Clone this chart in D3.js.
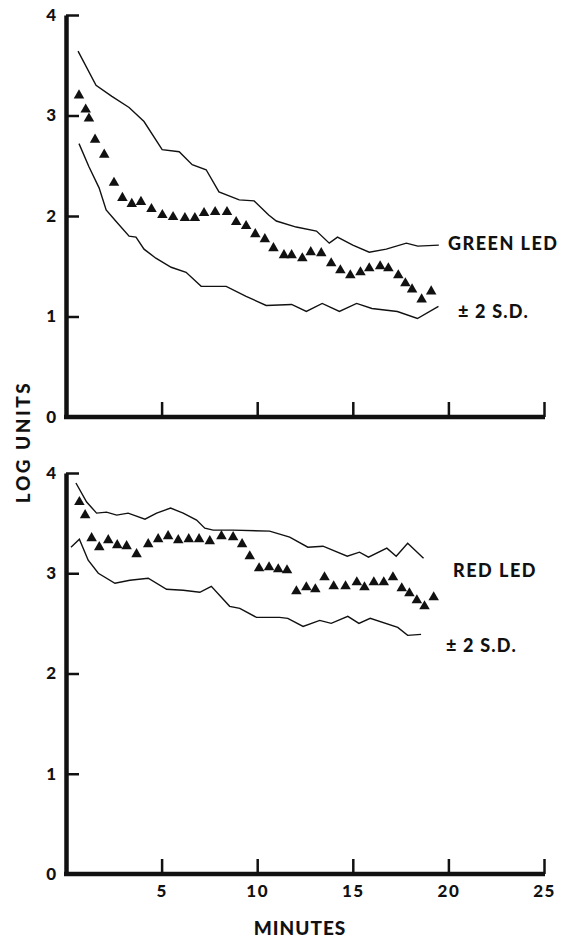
<!DOCTYPE html>
<html>
<head>
<meta charset="utf-8">
<script src="https://cdn.jsdelivr.net/npm/d3@7"></script>
<style>
body { margin: 0; background: #fff; }
text { font-family: Lato, "Open Sans", sans-serif; font-weight: 900; fill: #111; }
.axis path, .axis line { stroke: #111; }
</style>
</head>
<body>
<div class="chart"></div>
<script>
var width = 569, height = 937;

// green LED, triangles (minutes, log units)
var greenT = [0.68,1.03,1.2,1.52,2.0,2.51,2.95,3.44,3.92,4.47,5.04,5.6,6.22,6.74,7.22,7.8,8.42,8.9,9.42,9.9,
	10.4,10.85,11.4,11.8,12.36,12.8,13.35,13.87,14.35,14.87,15.4,15.86,16.43,16.86,17.38,17.75,18.1,18.6,19.1];
var greenV = [3.20,3.06,2.97,2.76,2.61,2.33,2.18,2.12,2.14,2.07,2.01,1.99,1.98,1.98,2.03,2.04,2.04,1.94,1.90,1.82,
	1.77,1.68,1.61,1.61,1.58,1.64,1.63,1.53,1.46,1.41,1.44,1.48,1.50,1.48,1.41,1.33,1.27,1.17,1.25];
// green +2 S.D.
var greenHiT = [0.63,1.57,2.4,3.3,4.08,5.03,5.92,6.6,7.33,8.0,9.06,9.84,10.6,11.0,12.04,13.1,13.77,14.2,15.0,15.86,16.75,17.8,18.4,19.5];
var greenHiV = [3.64,3.30,3.19,3.08,2.94,2.66,2.64,2.51,2.46,2.24,2.16,2.15,2.01,1.95,1.89,1.85,1.73,1.79,1.71,1.64,1.67,1.73,1.70,1.71];
// green -2 S.D.
var greenLoT = [0.68,1.2,1.73,2.1,2.6,3.3,3.66,4.08,4.7,5.5,6.28,7.07,8.38,9.42,10.47,11.8,12.57,13.4,14.3,15.2,16.0,17.33,18.38,19.48];
var greenLoV = [2.72,2.49,2.28,2.06,1.95,1.80,1.79,1.67,1.58,1.49,1.44,1.30,1.30,1.20,1.11,1.12,1.05,1.13,1.05,1.13,1.08,1.05,0.98,1.10];

// red LED, triangles
var redT = [0.7,1.0,1.34,1.74,2.21,2.68,3.17,3.69,4.3,4.82,5.34,5.87,6.42,6.96,7.52,8.13,8.74,9.21,9.61,10.1,
	10.62,11.1,11.56,12.05,12.57,13.04,13.52,14.0,14.62,15.21,15.61,16.1,16.62,17.1,17.56,17.96,18.35,18.75,19.23];
var redV = [3.71,3.58,3.35,3.26,3.33,3.28,3.27,3.19,3.29,3.34,3.37,3.33,3.34,3.34,3.32,3.37,3.36,3.29,3.17,3.05,
	3.06,3.04,3.03,2.82,2.86,2.84,2.96,2.87,2.87,2.91,2.86,2.91,2.91,2.96,2.85,2.80,2.73,2.67,2.76];
// red +2 S.D.
var redHiT = [0.52,1.08,1.6,2.12,2.65,3.25,4.13,4.74,5.47,6.13,6.83,7.26,7.7,8.74,10.65,11.7,12.65,13.44,14.71,15.35,15.82,16.78,17.27,17.87,18.7];
var redHiV = [3.90,3.71,3.60,3.61,3.58,3.60,3.54,3.60,3.65,3.60,3.53,3.45,3.43,3.43,3.42,3.36,3.26,3.27,3.17,3.21,3.16,3.25,3.17,3.30,3.15];
// red -2 S.D.
var redLoT = [0.26,0.7,1.16,1.69,2.56,3.34,4.3,5.26,6.13,7.0,7.6,8.56,9.09,9.96,11.17,11.6,12.4,13.27,13.87,14.74,15.32,15.91,17.35,17.87,18.57];
var redLoV = [3.26,3.34,3.13,3.00,2.90,2.93,2.95,2.84,2.83,2.81,2.87,2.67,2.65,2.56,2.56,2.55,2.47,2.53,2.50,2.57,2.50,2.55,2.46,2.38,2.39];

var xTicks = [5,10,15,20,25];
var yTicks = [0,1,2,3,4];

var svg = d3.select(".chart").append("svg")
	.attr("width", width)
	.attr("height", height);

var x = d3.scaleLinear()
	.domain([0,25])
	.range([66,544]);

var yTop = d3.scaleLinear().domain([0,4]).range([417,15]);
var yBot = d3.scaleLinear().domain([0,4]).range([874,473]);

var line = function(y){
	return d3.line()
		.x(function(d){return x(d[0]);})
		.y(function(d){return y(d[1]);});
};

var tri = d3.symbol().type(d3.symbolTriangle).size(48);

function makePanel(y, ptsT, ptsV, hiT, hiV, loT, loV, showLabels){
	var g = svg.append("g");

	var yAxis = d3.axisLeft(y)
		.tickValues(yTicks)
		.tickSizeInner(-13)
		.tickSizeOuter(0)
		.tickPadding(10)
		.tickFormat(d3.format("d"));
	var ya = g.append("g").attr("class","axis")
		.attr("transform","translate(" + x(0) + ",0)")
		.call(yAxis);
	ya.select(".domain").attr("stroke-width",4.5);
	ya.selectAll(".tick line").attr("stroke-width",2.5);
	ya.selectAll(".tick").filter(function(d){return d == 0;}).select("line").remove();
	ya.selectAll("text").attr("font-size",17).attr("fill","#111");

	var xAxis = d3.axisBottom(x)
		.tickValues(xTicks)
		.tickSizeInner(-15)
		.tickSizeOuter(0)
		.tickPadding(11)
		.tickFormat(showLabels ? d3.format("d") : "");
	var xa = g.append("g").attr("class","axis")
		.attr("transform","translate(0," + y(0) + ")")
		.call(xAxis);
	xa.select(".domain").attr("stroke-width",4.5).attr("d","M" + (x(0)-2) + ",0H" + (x(25)+1));
	xa.selectAll(".tick line").attr("stroke-width",2.5);
	xa.selectAll("text").attr("font-size",17).attr("fill","#111").style("letter-spacing","1.5px");

	g.append("path")
		.datum(d3.zip(hiT, hiV))
		.attr("fill","none").attr("stroke","#111").attr("stroke-width",1.4)
		.attr("d", line(y));
	g.append("path")
		.datum(d3.zip(loT, loV))
		.attr("fill","none").attr("stroke","#111").attr("stroke-width",1.4)
		.attr("d", line(y));

	g.selectAll(".pt")
		.data(d3.zip(ptsT, ptsV))
		.enter().append("path")
			.attr("class","pt")
			.attr("d", tri)
			.attr("fill","#111")
			.attr("transform", function(d){return "translate(" + x(d[0]) + "," + y(d[1]) + ")";});
	return g;
}

makePanel(yTop, greenT, greenV, greenHiT, greenHiV, greenLoT, greenLoV, false);
makePanel(yBot, redT, redV, redHiT, redHiV, redLoT, redLoV, true);

function label(tx, ty, s, size, sp){
	return svg.append("text")
		.attr("x", tx).attr("y", ty)
		.attr("font-size", size)
		.attr("dominant-baseline","central")
		.style("letter-spacing", sp + "px")
		.text(s);
}

label(448, 243, "GREEN LED", 18, 1.5);
label(458, 311, "± 2 S.D.", 18, 1.2);
label(453, 570, "RED LED", 18, 1.5);
label(446, 645, "± 2 S.D.", 18, 1.2);

svg.append("text")
	.attr("x", 300).attr("y", 927)
	.attr("text-anchor","middle")
	.attr("dominant-baseline","central")
	.attr("font-size",19)
	.style("letter-spacing","1px")
	.text("MINUTES");

svg.append("text")
	.attr("transform","translate(22,442) rotate(-90)")
	.attr("text-anchor","middle")
	.attr("dominant-baseline","central")
	.attr("font-size",19)
	.style("letter-spacing","2.5px")
	.text("LOG UNITS");
</script>
</body>
</html>
